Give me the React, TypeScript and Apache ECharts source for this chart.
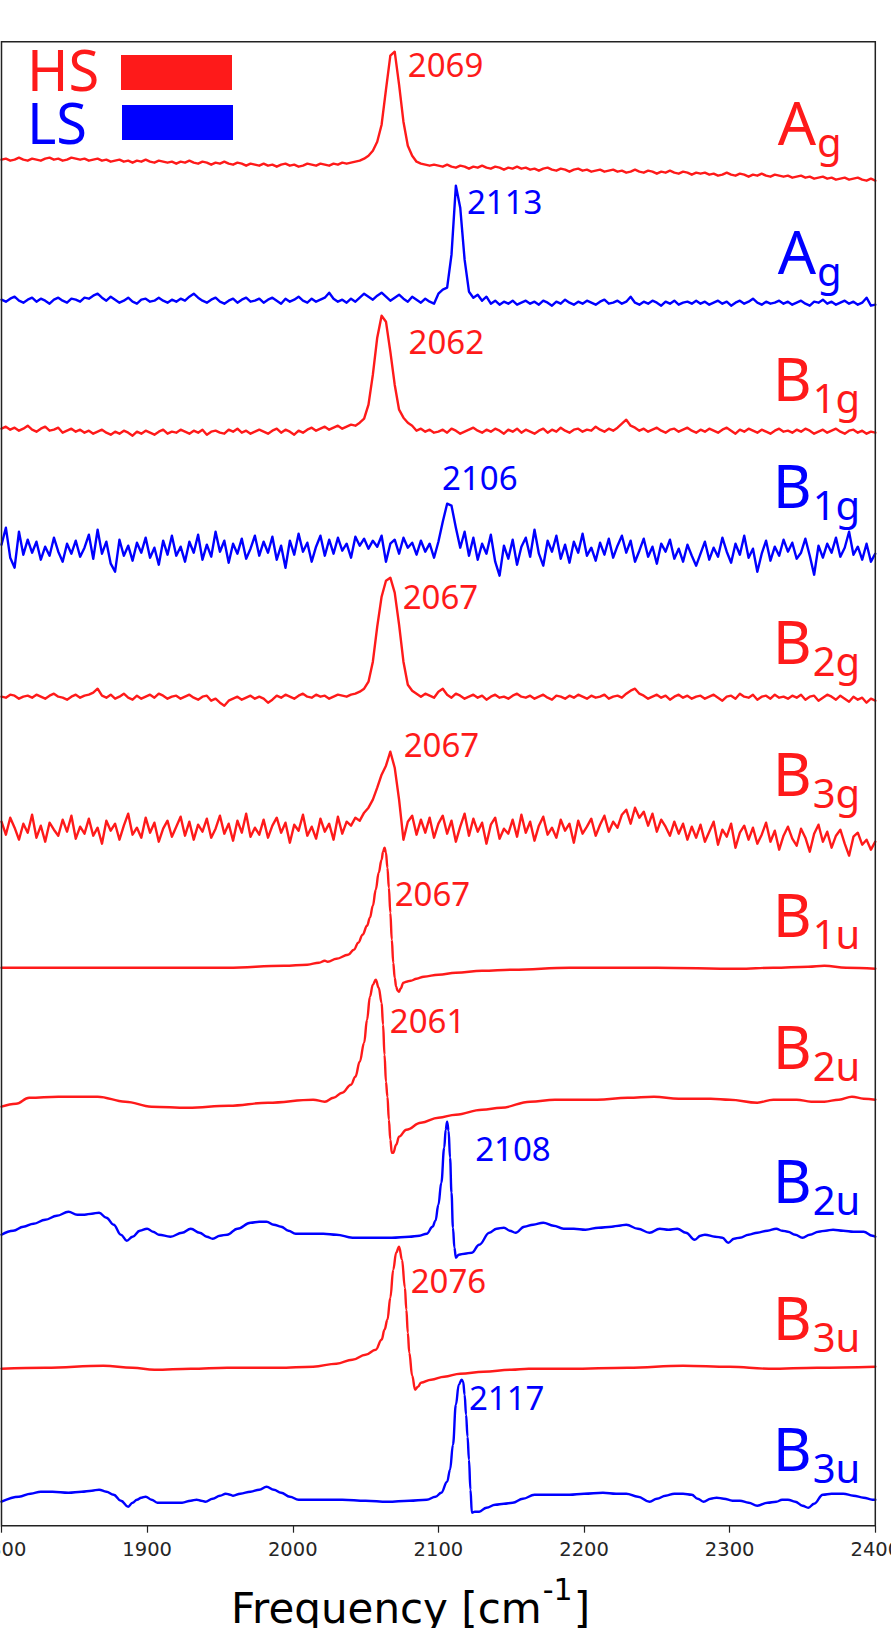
import React, { useEffect, useRef } from "react";
import * as echarts from "echarts";

const RED = "#fe1a1a";
const BLUE = "#0000ff";

// x axis
const X_MIN = 1800;
const X_MAX = 2400;
const X_INTERVAL = 100;
// noisy spectra are sampled every 3 cm-1 from 1800 to 2400 (201 values)
const SAMPLE_START = 1800;
const SAMPLE_STEP = 3;

// ---- noisy spectra (relative intensity, baseline = 0) ----
const hsAg = [
  0,1,-1,0,2,0,-1,1,0,-1,1,2,0,1,-1,0,2,1,0,1,
  -1,0,1,-1,0,-2,-1,0,-2,-1,-3,-1,-2,0,-2,-3,-1,-2,-3,-2,
  -4,-2,-3,-1,-3,-4,-2,-3,-5,-3,-4,-2,-4,-5,-3,-4,-6,-4,-5,-6,
  -4,-6,-5,-7,-5,-4,-6,-5,-7,-6,-4,-5,-6,-4,-5,-6,-4,-5,-3,-4,
  -3,-2,-1,1,4,9,18,35,70,104,108,75,38,14,4,-2,-4,-5,-6,-5,
  -6,-7,-5,-7,-8,-6,-7,-9,-7,-8,-6,-8,-9,-7,-8,-10,-8,-9,-7,-9,
  -8,-10,-9,-11,-9,-8,-10,-11,-9,-10,-12,-10,-9,-11,-10,-12,-11,-10,-12,-11,
  -10,-12,-11,-13,-12,-10,-12,-13,-11,-12,-14,-12,-13,-11,-13,-14,-12,-13,-15,-13,
  -14,-13,-15,-14,-16,-15,-13,-15,-16,-14,-15,-17,-15,-16,-14,-16,-17,-15,-16,-17,
  -16,-18,-17,-16,-18,-17,-19,-18,-17,-19,-18,-20,-19,-18,-20,-19,-18,-20,-21,-19,
  -21,
];
const lsAg = [
  0,-2,1,3,-1,-3,0,2,-2,1,-1,-4,0,2,-1,-3,1,0,-2,2,
  1,4,6,2,-1,3,0,-3,-1,2,-2,-4,0,1,-2,-1,2,-1,-3,0,
  -2,1,-1,3,6,2,-1,-3,0,2,-2,-4,-1,1,-3,0,2,-2,-1,1,
  -3,0,2,-1,-4,1,-2,0,3,-1,-3,1,-2,0,2,7,1,-2,0,-3,
  1,-2,2,6,3,0,4,7,3,-1,2,5,1,-2,3,0,-3,1,-2,-4,
  6,10,12,45,114,92,40,8,2,5,-1,3,-4,-1,-5,-2,-4,-1,-5,-3,
  -1,-4,-2,-5,-1,-3,-6,-2,-4,0,-3,-5,-2,-4,-1,-3,-5,-2,0,-4,
  -3,-1,-4,-2,3,-3,-5,-2,-4,-1,-3,-6,-2,-4,-1,-5,-3,-2,-4,-1,
  -4,-2,-5,-3,-1,-4,-2,-6,-3,-1,-4,-2,1,-3,-5,-2,-4,-3,-1,-4,
  -2,-5,-3,-1,-4,-6,-2,-3,0,-4,-2,-5,-3,-1,-4,-2,-5,-3,2,-6,
  -5,
];
const hsB1g = [
  1,3,0,2,-1,1,4,0,-2,1,3,-1,0,2,-3,-1,1,-2,0,-3,
  -1,-4,-2,0,-3,-5,-2,-4,-1,-3,-6,-2,-4,-1,-3,-5,-2,0,-4,-2,
  -3,0,-2,-4,-1,-3,0,-5,-2,-1,-3,-4,0,-2,1,-3,-1,-4,-2,0,
  -2,-4,-1,1,-3,0,-2,-5,-1,-3,0,2,-1,1,3,0,2,4,1,3,
  5,4,7,11,25,55,92,114,108,78,45,20,12,7,4,-1,1,-2,0,-3,
  -2,0,-3,1,-1,-4,-2,0,2,-1,-3,0,-2,1,-1,-4,0,-2,1,-3,
  0,-2,-4,-1,1,-3,0,-2,2,-1,-3,0,1,-2,0,-1,3,0,-2,1,
  -1,2,6,10,4,2,-1,1,-2,0,2,-1,-3,0,1,-2,0,2,-1,-3,
  0,-2,1,-1,-3,0,2,-1,-4,0,-2,1,-1,-3,0,-2,-4,-1,1,-2,
  -1,-3,0,-2,1,-1,-4,-2,0,-3,-1,1,-2,-4,-1,0,-3,-1,-4,-2,
  -3,
];
const lsB1g = [
  5,22,-8,-18,18,-5,10,-3,8,-10,3,-6,12,-2,-12,6,-4,9,-7,2,
  15,-9,20,-4,8,-14,-22,10,-6,4,-11,7,-3,12,-8,2,-15,9,-5,14,
  -6,3,-12,8,-3,15,-10,5,-7,18,-2,9,-13,6,-4,11,-9,1,14,-6,
  8,-3,13,-10,4,-18,9,-5,16,-2,7,-12,3,14,-6,10,-4,12,-1,6,
  -8,13,4,11,1,9,3,14,-12,6,10,-4,12,2,7,-5,9,-2,6,-8,
  8,28,46,44,22,2,18,-6,12,-10,6,-4,15,-12,-26,4,-9,10,-15,3,
  12,-7,20,-4,-16,9,-2,14,-9,5,-13,8,-3,16,-6,2,-11,7,-5,11,
  -8,4,14,-3,9,-12,-1,11,-7,3,-14,6,-2,10,-9,1,-12,5,-6,-16,
  -4,8,-10,2,-7,12,-2,-13,6,-5,14,-8,1,-22,-4,9,-11,3,-6,10,
  -2,7,-9,-3,11,-6,-25,4,-8,6,-3,12,-7,2,18,-5,3,-10,6,-12,
  -4,
];
const hsB2g = [
  0,-1,2,1,-2,0,1,-1,2,0,-2,1,3,0,-1,-3,0,2,-1,1,
  2,4,8,1,-1,2,-2,0,3,-1,-3,1,-2,0,2,-1,3,1,-2,0,
  1,-2,0,2,-1,-3,0,1,-4,-2,-6,-9,-4,-2,0,-3,-1,1,-2,0,
  -2,-6,-3,1,-1,2,0,-2,1,3,0,-1,2,0,1,-2,0,2,1,0,
  2,3,5,8,15,35,70,100,116,119,104,72,35,12,6,3,0,3,1,-1,
  5,8,2,-1,3,1,-2,0,2,-1,1,-3,0,2,-1,0,-2,1,3,0,
  -1,1,-2,0,2,-1,-3,1,0,-2,1,-1,2,0,-2,1,-1,0,2,-2,
  0,1,-1,3,6,8,3,1,-2,0,2,-1,1,-3,0,2,-1,1,-2,0,
  1,-2,0,2,-1,-4,0,1,-2,3,0,-1,2,-3,0,1,-2,2,-1,0,
  -2,1,-1,2,-3,0,1,-4,-1,2,0,-3,1,-2,-5,0,-3,-1,-6,-2,
  -4,
];
const hsB3g = [
  8,-5,12,2,-10,6,-3,15,-8,4,-12,7,0,-6,10,-2,14,-9,3,-4,
  11,-6,2,-14,9,-1,6,-10,4,16,-5,2,-8,12,-3,7,-12,1,9,-7,
  3,13,-6,8,-10,5,-2,11,-8,1,14,-4,6,-11,9,-3,16,-7,2,-5,
  10,-8,4,12,-3,7,-13,5,-1,15,-6,3,-9,11,-2,6,-10,13,-4,8,
  4,12,9,17,22,30,42,55,64,78,62,30,-10,8,14,-5,10,-3,12,-8,
  6,14,-4,9,-12,3,16,-6,11,-2,7,-14,5,12,-9,1,-4,10,-7,15,
  -3,8,-11,4,13,-5,2,-8,10,-1,6,-13,9,-4,3,11,-6,5,14,-2,
  8,2,15,20,6,22,12,18,4,16,-2,10,3,-6,8,-4,6,-10,3,-8,
  5,-12,-2,8,-15,0,-7,6,-18,-3,4,-10,2,-14,-5,7,-12,-1,-20,-6,
  3,-9,-16,1,-8,-22,-4,5,-12,-2,-18,-6,0,-14,-26,-7,-3,-15,-10,-20,
  -12,
];

// ---- smooth (IR-like) spectra as [frequency, relative intensity] ----
const hsB1u = [
  [1800,0],[1850,0],[1900,0],[1955,0],[1994,2],[2010,3],[2018,5],[2022,7],[2024,6],[2030,9],
  [2038,13],[2042,18],[2045,25],[2048,33],[2051,42],[2053,50],[2055,62],[2057,78],[2059,95],[2061,108],
  [2062,116],[2063,120],[2064,115],[2065,100],[2066,80],[2067,55],[2068,28],[2069,5],[2070,-10],[2071,-19],
  [2072,-23],[2073,-24],[2074,-21],[2076,-15],[2078,-14],[2081,-13],[2085,-11],[2090,-9],[2100,-7],[2112,-5],
  [2130,-3],[2151,-2],[2190,0],[2250,0],[2306,-1],[2330,0],[2354,1],[2365,2],[2380,0],[2400,-1],
];
const hsB2u = [
  [1800,-7],[1810,-4],[1819,2],[1839,3],[1866,3],[1885,-2],[1903,-7],[1928,-8],[1956,-6],[1983,-3],
  [2014,0],[2022,-2],[2028,2],[2034,7],[2040,15],[2043,23],[2046,38],[2049,57],[2051,80],[2053,103],
  [2055,115],[2057,120],[2059,112],[2061,97],[2062,75],[2063,45],[2064,18],[2065,3],[2066,-20],[2067,-40],
  [2068,-53],[2069,-53],[2071,-45],[2073,-37],[2078,-30],[2088,-23],[2100,-18],[2112,-15],[2130,-10],[2143,-8],
  [2163,-2],[2180,0],[2209,0],[2230,2],[2248,3],[2265,1],[2287,1],[2300,0],[2319,-3],[2330,0],
  [2346,0],[2356,-2],[2365,-2],[2375,0],[2384,3],[2392,1],[2400,0],
];
const lsB2u = [
  [1800,-2],[1808,2],[1815,6],[1822,9],[1830,13],[1838,17],[1846,21],[1852,18],[1857,18],[1862,19],
  [1867,20],[1872,15],[1877,8],[1882,-2],[1886,-8],[1890,-4],[1895,2],[1900,4],[1904,1],[1908,-2],
  [1916,-4],[1924,0],[1930,4],[1936,0],[1941,-4],[1945,-6],[1950,-3],[1955,-2],[1962,4],[1971,10],
  [1977,11],[1982,11],[1987,8],[1992,6],[1997,2],[2002,-1],[2010,-1],[2021,-1],[2030,-2],[2041,-5],
  [2055,-5],[2068,-5],[2080,-4],[2087,-3],[2092,-1],[2096,6],[2098,12],[2100,28],[2102,50],[2104,85],
  [2105,103],[2106,111],[2107,102],[2108,75],[2109,40],[2110,5],[2111,-15],[2112,-25],[2114,-22],[2118,-21],
  [2123,-20],[2128,-12],[2135,0],[2140,4],[2145,5],[2149,2],[2153,0],[2159,6],[2165,8],[2172,10],
  [2179,7],[2186,4],[2193,4],[2201,3],[2210,5],[2219,6],[2224,7],[2229,8],[2237,4],[2245,0],
  [2252,4],[2258,3],[2264,4],[2270,0],[2276,-7],[2280,-3],[2283,-2],[2290,-4],[2295,-5],[2299,-10],
  [2303,-6],[2307,-5],[2313,-2],[2319,0],[2326,2],[2332,4],[2336,2],[2340,1],[2345,-2],[2350,-5],
  [2355,-2],[2361,1],[2366,2],[2371,3],[2378,2],[2385,1],[2392,1],[2398,-3],[2400,-4],
];
const hsB3u = [
  [1800,-1],[1830,0],[1870,2],[1890,0],[1905,-2],[1930,-1],[1955,0],[1990,0],[2014,1],[2030,4],
  [2041,8],[2050,13],[2057,18],[2061,28],[2063,38],[2065,48],[2067,70],[2069,98],[2071,115],[2073,121],
  [2075,108],[2077,80],[2078,58],[2079,35],[2080,15],[2082,-8],[2084,-22],[2086,-19],[2088,-15],[2095,-12],
  [2104,-9],[2115,-6],[2131,-4],[2150,-2],[2162,-1],[2190,-1],[2230,0],[2268,2],[2300,1],[2327,-1],
  [2360,0],[2400,1],
];
const lsB3u = [
  [1800,-2],[1812,3],[1820,6],[1827,8],[1835,8],[1846,7],[1855,8],[1862,9],[1867,10],[1872,8],
  [1877,5],[1882,-1],[1887,-7],[1890,-3],[1893,0],[1896,2],[1899,3],[1903,0],[1907,-3],[1915,-3],
  [1924,-3],[1930,-1],[1934,0],[1937,-1],[1940,-2],[1945,1],[1950,4],[1954,6],[1957,5],[1959,4],
  [1964,6],[1971,8],[1977,10],[1982,13],[1987,10],[1992,7],[1998,3],[2004,0],[2020,0],[2034,0],
  [2050,-1],[2065,-2],[2080,-1],[2092,0],[2098,3],[2102,7],[2106,18],[2108,30],[2110,55],[2112,95],
  [2114,115],[2116,120],[2117,118],[2118,105],[2119,85],[2120,63],[2121,40],[2122,10],[2123,-13],[2125,-12],
  [2128,-12],[2133,-8],[2139,-5],[2145,-4],[2151,-3],[2158,1],[2166,5],[2178,5],[2190,5],[2200,6],
  [2213,7],[2222,6],[2229,6],[2237,3],[2245,-2],[2250,1],[2256,4],[2262,6],[2268,6],[2274,5],
  [2278,1],[2282,-2],[2287,1],[2291,2],[2296,1],[2302,-1],[2307,-1],[2313,-3],[2319,-6],[2326,-3],
  [2332,-2],[2336,0],[2340,0],[2345,-2],[2350,-6],[2354,-8],[2358,-4],[2364,5],[2370,6],[2378,6],
  [2385,4],[2392,2],[2398,0],[2400,0],
];

// ---- per-trace metadata (top to bottom) ----
const spinStates = ["HS", "LS", "HS", "LS", "HS", "HS", "HS", "HS", "LS", "HS", "LS"];
const modeMain = ["A", "A", "B", "B", "B", "B", "B", "B", "B", "B", "B"];
const modeSub = ["g", "g", "1g", "1g", "2g", "3g", "1u", "2u", "2u", "3u", "3u"];
const traceOffsets = [1366, 1226, 1096, 976, 829, 696, 558, 426, 293, 158, 26];
const modeLabelLevels = [1380, 1251, 1124, 1017, 861, 729, 588, 456, 322, 185, 54];
const MODE_LABEL_FREQ = 2333;
const peakTexts = ["2069", "2113", "2062", "2106", "2067", "2067", "2067", "2061", "2108", "2076", "2117"];
const peakLabelFreqs = [2079, 2119.6, 2079.5, 2102.5, 2075.5, 2076.2, 2070, 2066.6, 2125.3, 2081, 2121];
const peakLabelLevels = [1448, 1311, 1171, 1035, 916, 768, 619, 492, 364, 232, 115];
const Y_MAX = 1484;

const noisyTraces: (number[] | null)[] = [hsAg, lsAg, hsB1g, lsB1g, hsB2g, hsB3g, null, null, null, null, null];
const smoothTraces: (number[][] | null)[] = [null, null, null, null, null, null, hsB1u, hsB2u, lsB2u, hsB3u, lsB3u];

const NOTO = '"Noto Sans"';
const DEJAVU = '"DejaVu Sans"';
const NOTO_CENTRAL = 0.388;
const DEJAVU_CENTRAL = 0.346;

export default function App() {
  const ref = useRef<HTMLDivElement>(null);
  useEffect(() => {
    const el = ref.current;
    if (!el) return;
    const chart = echarts.init(el, null, { renderer: "svg" });

    const series: any[] = spinStates.map((s, k) => {
      const color = s === "HS" ? RED : BLUE;
      const off = traceOffsets[k];
      const noisy = noisyTraces[k];
      const smooth = smoothTraces[k];
      const data = noisy
        ? noisy.map((v, i) => [SAMPLE_START + SAMPLE_STEP * i, v + off])
        : (smooth as number[][]).map(([f, v]) => [f, v + off]);
      return {
        type: "line",
        name: s,
        data,
        showSymbol: false,
        symbol: "none",
        smooth: noisy ? false : 0.4,
        smoothMonotone: "x",
        color,
        lineStyle: { color, width: 2.4, join: "round", cap: "round" },
        silent: true,
        z: 2 + k * 0.01,
      };
    });

    chart.setOption({
      animation: false,
      backgroundColor: "#ffffff",
      grid: {
        left: 1.5,
        top: 41.7,
        width: 873.8,
        height: 1484,
        containLabel: false,
        outerBoundsMode: "none",
        show: true,
        borderColor: "#222222",
        borderWidth: 1.5,
        backgroundColor: "transparent",
        z: 10,
      },
      xAxis: {
        type: "value",
        min: X_MIN,
        max: X_MAX,
        interval: X_INTERVAL,
        axisLine: { show: false },
        axisTick: { show: true, length: 7, lineStyle: { color: "#222222", width: 1.2 } },
        axisLabel: {
          show: true,
          margin: 14,
          fontSize: 19.5,
          fontFamily: "DejaVu Sans",
          color: "#262626",
          showMinLabel: true,
          showMaxLabel: true,
          hideOverlap: false,
          formatter: (v: number) => String(v),
        },
        splitLine: { show: false },
      },
      yAxis: { type: "value", min: 0, max: Y_MAX, show: false },
      series,
    });

    const canvas = document.createElement("canvas");
    const ctx = canvas.getContext("2d") as CanvasRenderingContext2D;
    const measureFull = (t: string, size: number, fam: string) => {
      ctx.font = `${size}px ${fam}`;
      return ctx.measureText(t);
    };
    const measure = (t: string, size: number, fam: string) => measureFull(t, size, fam).width;
    const txt = (text: string, x: number, baseline: number, size: number, fam: string, central: number, fill: string) => ({
      type: "text",
      x,
      y: baseline - central * size,
      silent: true,
      z: 100,
      style: {
        text,
        fill,
        fontSize: size,
        fontFamily: fam,
        textAlign: "left",
        align: "left",
        textVerticalAlign: "middle",
        verticalAlign: "middle",
      },
    });

    const graphics: any[] = [];
    // legend
    graphics.push(txt("HS", 27, 91, 56, NOTO, NOTO_CENTRAL, RED));
    graphics.push(txt("LS", 27, 144, 56, NOTO, NOTO_CENTRAL, BLUE));
    graphics.push({ type: "rect", silent: true, z: 100, shape: { x: 121, y: 55, width: 111, height: 35 }, style: { fill: RED } });
    graphics.push({ type: "rect", silent: true, z: 100, shape: { x: 122, y: 105, width: 111, height: 35 }, style: { fill: BLUE } });

    // mode labels (ink-aligned on the left) and peak annotations
    spinStates.forEach((s, k) => {
      const color = s === "HS" ? RED : BLUE;
      const [mx, my] = chart.convertToPixel({ gridIndex: 0 }, [MODE_LABEL_FREQ, modeLabelLevels[k]]) as number[];
      const m = measureFull(modeMain[k], 60, NOTO);
      const lsb = -(m.actualBoundingBoxLeft || 0);
      const ox = mx - lsb;
      graphics.push(txt(modeMain[k], ox, my, 60, NOTO, NOTO_CENTRAL, color));
      graphics.push(txt(modeSub[k], ox + m.width + 1, my + 11, 40, NOTO, NOTO_CENTRAL, color));
      const [px, py] = chart.convertToPixel({ gridIndex: 0 }, [peakLabelFreqs[k], peakLabelLevels[k]]) as number[];
      graphics.push(txt(peakTexts[k], px, py, 33, NOTO, NOTO_CENTRAL, color));
    });

    // x axis title: Frequency [cm^-1]
    const t1 = "Frequency [cm";
    const x1 = 231;
    const w1 = measure(t1, 42, DEJAVU);
    graphics.push(txt(t1, x1, 1623, 42, DEJAVU, DEJAVU_CENTRAL, "#000000"));
    const x2 = x1 + w1 + 1;
    graphics.push(txt("-1", x2, 1600, 30, DEJAVU, DEJAVU_CENTRAL, "#000000"));
    const x3 = x2 + measure("-1", 30, DEJAVU) + 1;
    graphics.push(txt("]", x3, 1623, 42, DEJAVU, DEJAVU_CENTRAL, "#000000"));

    chart.setOption({ graphic: graphics });

    return () => chart.dispose();
  }, []);

  return (
    <div
      ref={ref}
      style={{ position: "fixed", left: 0, top: 0, width: 891, height: 1628, background: "#ffffff" }}
    />
  );
}
